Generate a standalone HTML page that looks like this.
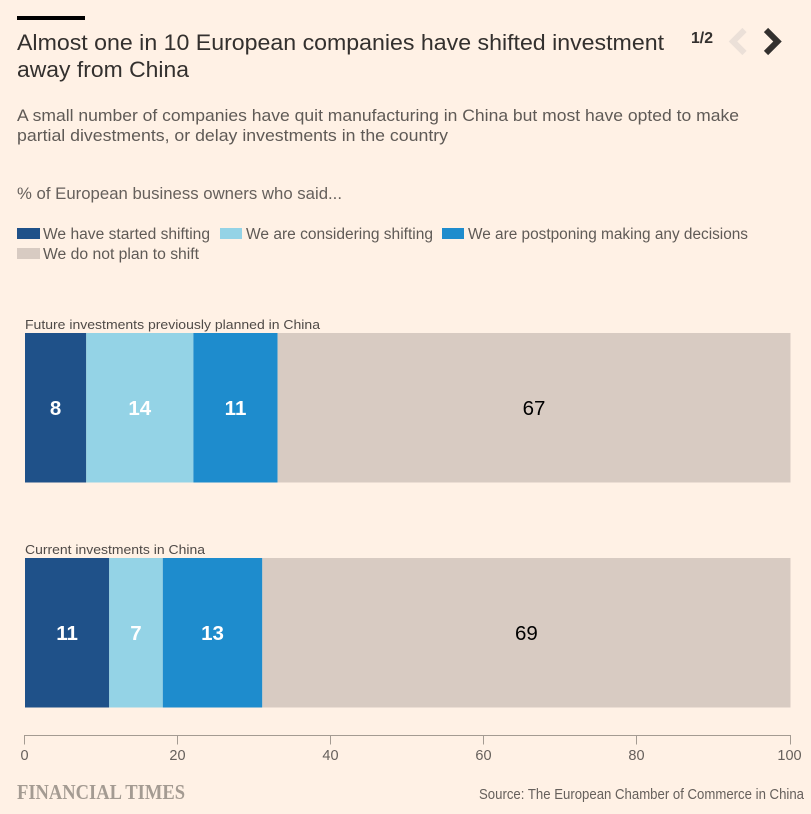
<!DOCTYPE html>
<html lang="en">
<head>
<meta charset="utf-8">
<title>Almost one in 10 European companies have shifted investment away from China</title>
<style>
html,body{margin:0;padding:0;background:#fff1e5;}
body{width:811px;height:814px;overflow:hidden;}
svg{display:block;font-family:"Liberation Sans",sans-serif;}
</style>
</head>
<body>
<svg id="chart" width="811" height="814" viewBox="0 0 811 814" xmlns="http://www.w3.org/2000/svg">
  <rect x="0" y="0" width="811" height="814" fill="#fff1e5"/>
  <rect x="17" y="16" width="68" height="4" fill="#000"/>
  <text x="17" y="50" font-size="22.5" fill="#33302e" textLength="647" lengthAdjust="spacingAndGlyphs">Almost one in 10 European companies have shifted investment</text>
  <text x="17" y="77" font-size="22.5" fill="#33302e" textLength="172" lengthAdjust="spacingAndGlyphs">away from China</text>
  <text x="17" y="121" font-size="17" fill="#5f5a56" textLength="722" lengthAdjust="spacingAndGlyphs">A small number of companies have quit manufacturing in China but most have opted to make</text>
  <text x="17" y="141" font-size="17" fill="#5f5a56" textLength="431" lengthAdjust="spacingAndGlyphs">partial divestments, or delay investments in the country</text>
  <text x="17" y="199" font-size="16.5" fill="#66605c" textLength="325" lengthAdjust="spacingAndGlyphs">% of European business owners who said...</text>

  <text x="691" y="43" font-size="15.5" font-weight="bold" fill="#33302e" textLength="22" lengthAdjust="spacingAndGlyphs">1/2</text>
  <path d="M744.500 30 L733 41.500 L744.500 53" fill="none" stroke="#ebe0d8" stroke-width="6"/>
  <path d="M766 30 L777.500 41.500 L766 53" fill="none" stroke="#33302e" stroke-width="6"/>

  <g id="legend"></g>
  <g id="bars"></g>
  <g id="axis"></g>

  <text x="17" y="799" font-family="'Liberation Serif',serif" font-size="21" font-weight="bold" fill="#a49b92" textLength="168" lengthAdjust="spacingAndGlyphs">FINANCIAL TIMES</text>
  <text x="479" y="799" font-size="14.5" fill="#66605c" textLength="325" lengthAdjust="spacingAndGlyphs">Source: The European Chamber of Commerce in China</text>
</svg>
<script>
const categories = ["Future investments previously planned in China", "Current investments in China"];
const seriesNames = ["We have started shifting", "We are considering shifting", "We are postponing making any decisions", "We do not plan to shift"];
const startedShifting = [8, 11];
const consideringShifting = [14, 7];
const postponing = [11, 13];
const noPlanToShift = [67, 69];
const tickValues = [0, 20, 40, 60, 80, 100];

const allSeries = [startedShifting, consideringShifting, postponing, noPlanToShift];
const seriesColors = ["#1f5189", "#94d3e6", "#1e8ccd", "#d8cbc2"];
const labelColors = ["#ffffff", "#ffffff", "#ffffff", "#000000"];
const SVG_NS = "http://www.w3.org/2000/svg";

function xScale(v) { return 25 + v * 7.655; }
function rowTop(i) { return 333 + i * 225; }
const ROW_HEIGHT = 149.5;

function make(tag, attrs, text) {
  const el = document.createElementNS(SVG_NS, tag);
  for (const k in attrs) el.setAttribute(k, attrs[k]);
  if (text !== undefined) el.textContent = text;
  return el;
}

/* Legend */
const legend = document.getElementById("legend");
const legendLayout = [
  { sx: 17, sw: 23, tx: 43, tw: 167, y: 228 },
  { sx: 220, sw: 22, tx: 246, tw: 187, y: 228 },
  { sx: 442, sw: 22, tx: 468, tw: 280, y: 228 },
  { sx: 17, sw: 23, tx: 43, tw: 156, y: 248 }
];
seriesNames.forEach(function (name, i) {
  const l = legendLayout[i];
  const swatch = make("rect", { x: l.sx, y: l.y, width: l.sw, height: 11, fill: seriesColors[i] });
  
  
  legend.appendChild(swatch);
  const label = make("text", { x: l.tx, y: l.y + 11, "font-size": 15.5, fill: "#5f5a56", textLength: l.tw, lengthAdjust: "spacingAndGlyphs" }, name);
  
  
  legend.appendChild(label);
});

/* Bars */
const barsGroup = document.getElementById("bars");
const categoryWidths = [295, 180];
categories.forEach(function (cat, r) {
  const top = rowTop(r);
  const title = make("text", { x: 25, y: top - 4, "font-size": 13, fill: "#4f4a47", textLength: categoryWidths[r], lengthAdjust: "spacingAndGlyphs" }, cat);
  
  
  barsGroup.appendChild(title);
  let cum = 0;
  allSeries.forEach(function (series, s) {
    const v = series[r];
    const x0 = xScale(cum);
    const x1 = xScale(cum + v);
    const bar = make("rect", { x: x0, y: top, width: x1 - x0, height: ROW_HEIGHT, fill: seriesColors[s] });
    
    
    barsGroup.appendChild(bar);
    const val = make("text", { x: (x0 + x1) / 2, y: top + ROW_HEIGHT / 2 + 7, "text-anchor": "middle", "font-size": 20.5, "font-weight": s === 3 ? "normal" : "bold", fill: labelColors[s] }, String(v));
    
    
    barsGroup.appendChild(val);
    cum += v;
  });
});

/* Axis */
const axis = document.getElementById("axis");
const domain = make("line", { x1: xScale(0) - 0.5, x2: xScale(100), y1: 735.5, y2: 735.5, stroke: "#a49b92", "stroke-width": 1 });


axis.appendChild(domain);
tickValues.forEach(function (t) {
  const x = Math.round(xScale(t)) - 0.5;
  const tick = make("line", { x1: x, x2: x, y1: 735, y2: 744.5, stroke: "#a49b92", "stroke-width": 1 });
  
  
  axis.appendChild(tick);
  const lab = make("text", { x: t === 100 ? x - 1 : x, y: 760, "text-anchor": "middle", "font-size": 14.5, fill: "#66605c" }, String(t));
  
  
  axis.appendChild(lab);
});
</script>
</body>
</html>
